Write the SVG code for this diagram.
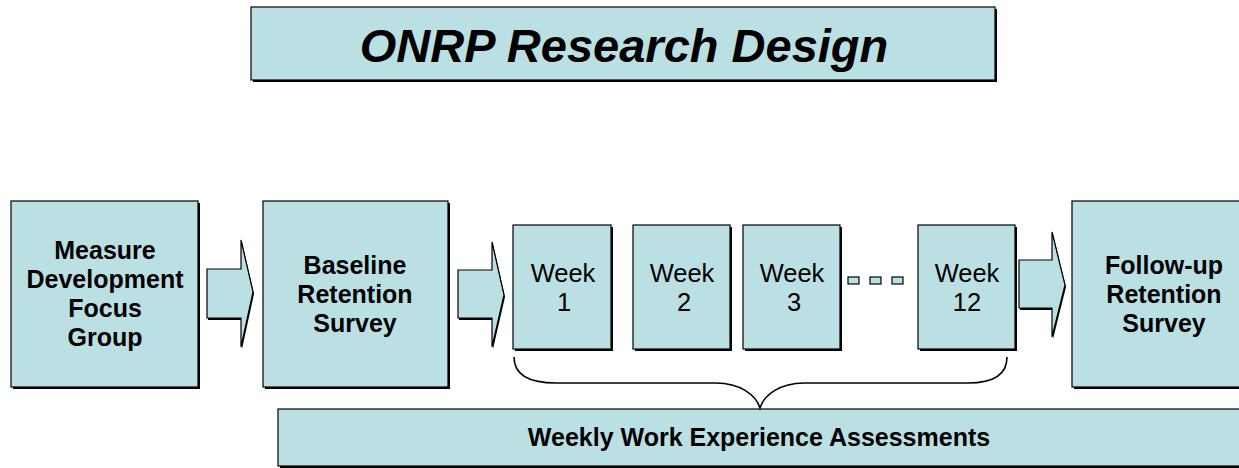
<svg xmlns="http://www.w3.org/2000/svg" width="1239" height="468" viewBox="0 0 1239 468">
  <style>
    .box { fill: #BBE0E3; stroke: #000; stroke-width: 1.2; }
    .shadow { fill: #000; }
    .lbl { font-family: "Liberation Sans", Arial, sans-serif; font-weight: bold; font-size: 25px; fill: #000; text-anchor: middle; }
    .wk { font-family: "Liberation Sans", Arial, sans-serif; font-size: 25.5px; fill: #000; text-anchor: middle; }
    .title { font-family: "Liberation Sans", Arial, sans-serif; font-weight: bold; font-style: italic; font-size: 47px; fill: #000; text-anchor: middle; }
    .arrow { fill: #BBE0E3; stroke: #000; stroke-width: 1.2; stroke-linejoin: miter; }
    .brace { fill: none; stroke: #000; stroke-width: 1.6; }
  </style>

  <!-- title -->
  <g id="title">
    <rect class="shadow" x="253" y="9" width="744" height="73"/>
    <rect class="box" x="251" y="7" width="744" height="73"/>
    <text class="title" x="624" y="62">ONRP Research Design</text>
  </g>

  <g id="focus-group">
    <rect class="shadow" x="13" y="203" width="187" height="186"/>
    <rect class="box" x="11" y="201" width="187" height="186"/>
    <text class="lbl" x="105" y="259">Measure</text>
    <text class="lbl" x="105" y="288">Development</text>
    <text class="lbl" x="105" y="317">Focus</text>
    <text class="lbl" x="105" y="346">Group</text>
  </g>

  <g id="baseline-survey">
    <rect class="shadow" x="265" y="203" width="185" height="186"/>
    <rect class="box" x="263" y="201" width="185" height="186"/>
    <text class="lbl" x="355" y="274">Baseline</text>
    <text class="lbl" x="355" y="303">Retention</text>
    <text class="lbl" x="355" y="332">Survey</text>
  </g>

  <g id="week-1">
    <rect class="shadow" x="515" y="227" width="98" height="124"/>
    <rect class="box" x="513" y="225" width="98" height="124"/>
    <text class="wk" x="563" y="282">Week</text>
    <text class="wk" x="564" y="311">1</text>
  </g>

  <g id="week-2">
    <rect class="shadow" x="635" y="227" width="97" height="124"/>
    <rect class="box" x="633" y="225" width="97" height="124"/>
    <text class="wk" x="682" y="282">Week</text>
    <text class="wk" x="684" y="311">2</text>
  </g>

  <g id="week-3">
    <rect class="shadow" x="745" y="227" width="97" height="124"/>
    <rect class="box" x="743" y="225" width="97" height="124"/>
    <text class="wk" x="792" y="282">Week</text>
    <text class="wk" x="794" y="311">3</text>
  </g>

  <g id="ellipsis">
    <rect class="box" x="848" y="277" width="11" height="7" stroke-width="2"/>
    <rect class="box" x="870" y="277" width="11" height="7" stroke-width="2"/>
    <rect class="box" x="892" y="277" width="11" height="7" stroke-width="2"/>
  </g>

  <g id="week-12">
    <rect class="shadow" x="920" y="227" width="97" height="124"/>
    <rect class="box" x="918" y="225" width="97" height="124"/>
    <text class="wk" x="967" y="282">Week</text>
    <text class="wk" x="967" y="311">12</text>
  </g>

  <g id="followup-survey">
    <rect class="shadow" x="1074" y="203" width="190" height="186"/>
    <rect class="box" x="1072" y="201" width="190" height="186"/>
    <text class="lbl" x="1164" y="274">Follow-up</text>
    <text class="lbl" x="1164" y="303">Retention</text>
    <text class="lbl" x="1164" y="332">Survey</text>
  </g>

  <g id="weekly-assessments">
    <rect class="shadow" x="280" y="411" width="980" height="58"/>
    <rect class="box" x="278" y="409" width="980" height="57"/>
    <text class="lbl" x="759" y="446">Weekly Work Experience Assessments</text>
  </g>

  <!-- block arrows and the brace grouping weeks 1-12 -->
  <g id="connectors">
    <path class="shadow" d="M208 271 H242 V242 L254 294 L242 349 V320 H208 Z"/>
    <path class="arrow" d="M207 269 H241 V240 L253 292 L241 347 V318 H207 Z"/>
    <path class="shadow" d="M459 272 H493 V244 L505 297 L493 349 V320 H459 Z"/>
    <path class="arrow" d="M458 270 H492 V242 L504 295 L492 347 V318 H458 Z"/>
    <path class="shadow" d="M1020 262 H1053 V234 L1066 287 L1053 339 V310 H1020 Z"/>
    <path class="arrow" d="M1019 260 H1052 V232 L1065 285 L1052 337 V308 H1019 Z"/>
    <path class="brace" d="M514 357 C514 375 530 383 556 383 H716 C740 383 756 395 760 408 C764 395 780 383 804 383 H968 C994 383 1007 375 1007 357"/>
  </g>
</svg>
